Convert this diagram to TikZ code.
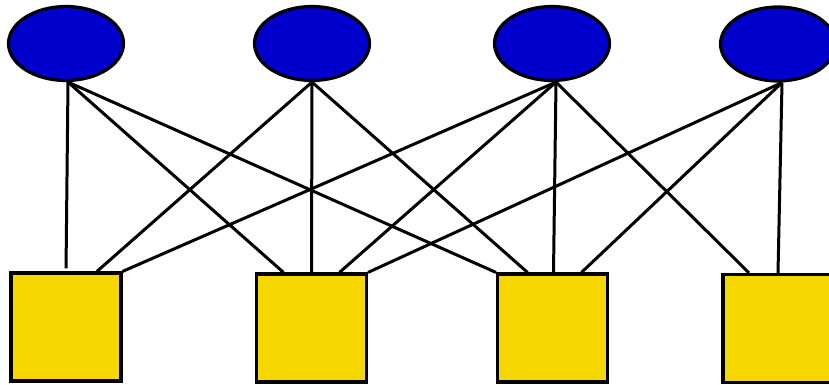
\documentclass[tikz,border=0pt]{standalone}
\usepackage{xcolor}
\usepackage{tikz}
\usetikzlibrary{shapes,positioning,calc}

\definecolor{nodeblue}{RGB}{0,0,204}
\definecolor{nodeyellow}{RGB}{245,214,0}

\begin{document}
\begin{tikzpicture}[
    x=1pt, y=-1pt,
    oval/.style={draw, ellipse, line width=3.2pt, fill=nodeblue, minimum width=115pt, minimum height=74pt, inner sep=0pt},
    box/.style={draw, rectangle, line width=3.2pt, fill=nodeyellow, minimum width=110pt, minimum height=108pt, inner sep=0pt},
    link/.style={line width=3pt}
]
\useasboundingbox (0,0) rectangle (829,385);

% Ellipses
\node[oval] (e1) at (66,43.5) {};
\node[oval] (e2) at (312,43.5) {};
\node[oval] (e3) at (552,43.5) {};
\node[oval] (e4) at (778,44) {};

% Squares
\node[box] (s1) at (66,327) {};
\node[box] (s2) at (311.5,328) {};
\node[box] (s3) at (552.5,328) {};
\node[box] (s4) at (778,328.5) {};

% Links from e1
\draw[link, shorten >=3pt] ([xshift=2pt]e1.south) -- (s1.north);
\draw[link] ([xshift=2pt]e1.south) -- ([xshift=-28pt]s2.north);
\draw[link] ([xshift=2pt]e1.south) -- (s3.north west);

% Links from e2
\draw[link] (e2.south) -- ([xshift=31pt]s1.north);
\draw[link] (e2.south) -- (s2.north);
\draw[link] (e2.south) -- ([xshift=-25pt]s3.north);

% Links from e3
\draw[link] ([xshift=4pt]e3.south) -- (s1.north east);
\draw[link] ([xshift=4pt]e3.south) -- ([xshift=28pt]s2.north);
\draw[link] ([xshift=4pt]e3.south) -- ([xshift=1pt]s3.north);
\draw[link] ([xshift=4pt]e3.south) -- ([xshift=-29pt]s4.north);

% Links from e4
\draw[link] ([xshift=4pt]e4.south) -- (s2.north east);
\draw[link] ([xshift=4pt]e4.south) -- ([xshift=29pt]s3.north);
\draw[link] ([xshift=4pt]e4.south) -- (s4.north);

\end{tikzpicture}
\end{document}
